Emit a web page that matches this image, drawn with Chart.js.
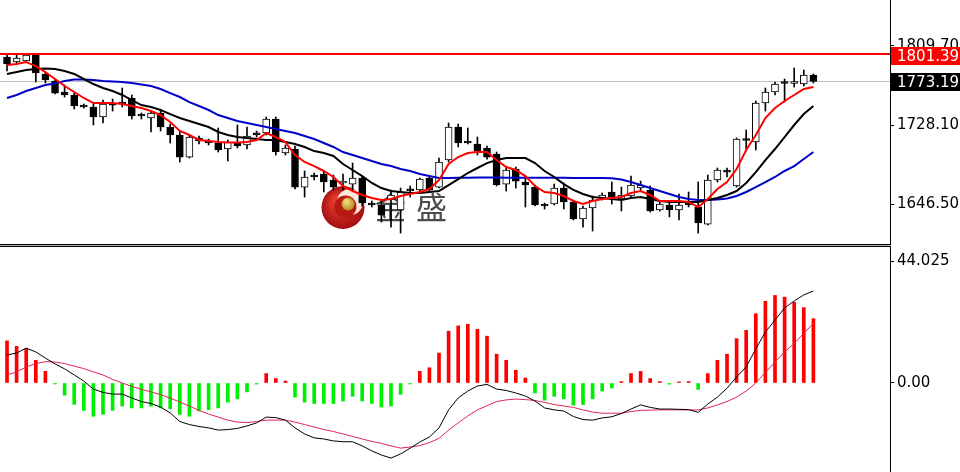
<!DOCTYPE html>
<html lang="zh">
<head>
<meta charset="UTF-8">
<title>日线 K线 + MACD</title>
<script src="https://cdn.jsdelivr.net/npm/chart.js"></script>
<style>
  html, body { margin: 0; padding: 0; background: #fff; }
  #top { position: absolute; left: 0; top: 0; width: 960px; height: 247px; }
  #bottom { position: absolute; left: 0; top: 247px; width: 960px; height: 225px; }
</style>
</head>
<body>
<div id="top"><canvas id="priceChart"></canvas></div>
<div id="bottom"><canvas id="macdChart"></canvas></div>
<script>
// candles, oldest first
const opens = [1798.3, 1793.2, 1794.2, 1800.4, 1780.8, 1773.5, 1762.2, 1759.1, 1748.7, 1746.7,
  1736.4, 1750.8, 1751.8, 1756.0, 1738.4, 1735.3, 1740.5, 1726.0, 1717.8, 1695.0,
  1714.7, 1710.5, 1709.5, 1703.3, 1709.5, 1707.4, 1718.8, 1719.8, 1734.3, 1699.2,
  1703.3, 1664.0, 1675.4, 1677.5, 1671.3, 1668.2, 1667.1, 1673.3, 1646.5, 1645.5,
  1650.6, 1640.3, 1661.0, 1661.0, 1673.3, 1664.0, 1692.0, 1726.0, 1710.5, 1708.5,
  1704.3, 1698.1, 1667.1, 1682.6, 1669.2, 1664.0, 1644.9, 1646.5, 1663.0, 1648.6,
  1631.0, 1642.4, 1652.7, 1658.9, 1651.7, 1654.8, 1663.0, 1661.0, 1640.3, 1645.5,
  1640.3, 1647.5, 1643.4, 1625.8, 1671.3, 1680.6, 1665.1, 1712.6, 1710.5, 1750.8,
  1762.2, 1771.5, 1771.0, 1770.4, 1779.7];
const highs = [1800.4, 1801.4, 1801.4, 1801.4, 1782.8, 1775.6, 1769.4, 1761.1, 1749.8, 1749.8,
  1753.9, 1754.9, 1766.3, 1759.1, 1740.5, 1742.5, 1743.6, 1729.1, 1720.9, 1717.8,
  1716.7, 1713.6, 1725.0, 1712.6, 1728.1, 1726.0, 1721.9, 1736.4, 1736.4, 1707.4,
  1706.4, 1680.6, 1678.5, 1679.5, 1676.4, 1677.5, 1688.8, 1675.4, 1649.6, 1650.6,
  1661.0, 1663.0, 1665.1, 1673.3, 1675.4, 1694.0, 1730.2, 1729.1, 1725.0, 1715.7,
  1706.4, 1700.2, 1684.7, 1684.7, 1675.4, 1666.1, 1647.5, 1667.1, 1668.2, 1650.6,
  1644.4, 1654.8, 1657.9, 1669.2, 1664.0, 1675.4, 1670.2, 1665.1, 1648.6, 1647.5,
  1656.8, 1658.9, 1669.2, 1676.4, 1683.7, 1683.7, 1714.7, 1722.9, 1752.9, 1766.3,
  1772.5, 1775.6, 1787.0, 1784.9, 1780.8];
const lows = [1783.9, 1791.1, 1793.2, 1772.5, 1771.5, 1760.1, 1757.0, 1744.6, 1745.6, 1728.1,
  1730.2, 1742.5, 1746.7, 1734.3, 1734.3, 1720.9, 1721.9, 1709.5, 1689.9, 1694.0,
  1708.5, 1707.4, 1700.2, 1690.9, 1704.3, 1703.3, 1715.7, 1717.8, 1697.1, 1697.1,
  1662.0, 1653.7, 1671.3, 1658.9, 1661.0, 1661.0, 1661.0, 1644.4, 1643.4, 1627.9,
  1622.7, 1616.5, 1653.7, 1658.9, 1658.9, 1663.0, 1689.9, 1705.4, 1708.5, 1697.1,
  1692.9, 1665.1, 1659.9, 1663.0, 1643.4, 1644.4, 1641.3, 1645.5, 1641.3, 1630.0,
  1622.7, 1618.6, 1650.6, 1646.5, 1639.3, 1653.7, 1661.0, 1638.2, 1639.3, 1633.1,
  1630.0, 1643.4, 1616.5, 1624.8, 1669.2, 1674.4, 1664.0, 1702.3, 1702.3, 1742.5,
  1759.1, 1751.8, 1767.3, 1768.4, 1771.5];
const closes = [1791.1, 1797.3, 1800.4, 1781.8, 1774.6, 1761.1, 1759.1, 1747.7, 1746.7, 1736.4,
  1749.8, 1748.7, 1749.8, 1737.4, 1737.4, 1740.5, 1726.0, 1717.8, 1695.0, 1715.7,
  1711.6, 1709.5, 1702.3, 1710.5, 1706.4, 1716.7, 1718.0, 1734.3, 1700.2, 1704.3,
  1664.0, 1674.4, 1674.4, 1669.2, 1664.0, 1670.2, 1673.3, 1647.5, 1645.5, 1635.1,
  1655.8, 1658.9, 1660.0, 1672.3, 1661.0, 1689.9, 1726.0, 1709.5, 1709.5, 1701.2,
  1695.0, 1666.1, 1681.6, 1670.2, 1666.1, 1645.5, 1644.4, 1663.0, 1648.6, 1631.0,
  1642.4, 1650.6, 1655.8, 1653.7, 1655.8, 1666.1, 1666.1, 1639.3, 1646.5, 1640.3,
  1645.5, 1645.5, 1626.9, 1671.3, 1681.6, 1679.5, 1713.6, 1712.1, 1750.8, 1762.2,
  1770.4, 1771.0, 1771.5, 1779.7, 1773.19];

// moving averages
const maFast = [1790.1, 1791.1, 1793.2, 1789.0, 1782.8, 1775.6, 1768.4, 1762.2, 1756.0, 1750.8,
  1750.8, 1750.8, 1749.8, 1747.7, 1745.6, 1742.5, 1738.4, 1731.2, 1721.9, 1717.8,
  1712.6, 1711.6, 1710.5, 1710.0, 1710.0, 1710.5, 1712.6, 1719.8, 1715.7, 1710.5,
  1697.1, 1689.9, 1685.7, 1680.6, 1674.4, 1665.1, 1659.9, 1655.8, 1652.7, 1650.6,
  1651.7, 1654.8, 1656.8, 1658.9, 1662.0, 1671.3, 1687.8, 1695.0, 1699.2, 1700.2,
  1700.2, 1691.9, 1684.7, 1681.6, 1675.4, 1665.1, 1658.9, 1657.9, 1654.8, 1649.6,
  1646.5, 1649.6, 1651.7, 1652.7, 1653.7, 1657.9, 1659.9, 1655.8, 1649.6, 1649.6,
  1649.6, 1648.6, 1643.4, 1651.7, 1662.0, 1669.2, 1682.6, 1702.3, 1717.8, 1735.3,
  1745.6, 1752.9, 1759.1, 1765.3, 1767.3];
const maMid = [1780.8, 1782.8, 1784.9, 1785.9, 1786.4, 1785.9, 1783.9, 1780.8, 1775.6, 1770.4,
  1766.3, 1763.2, 1759.1, 1753.9, 1748.7, 1746.7, 1743.6, 1739.4, 1735.3, 1732.2,
  1729.1, 1726.0, 1720.9, 1717.8, 1715.7, 1714.7, 1713.6, 1712.6, 1712.6, 1710.5,
  1708.5, 1705.4, 1701.2, 1699.2, 1696.1, 1687.8, 1681.6, 1675.4, 1668.2, 1663.0,
  1659.9, 1658.9, 1657.9, 1657.9, 1658.9, 1659.9, 1666.1, 1672.3, 1678.5, 1683.7,
  1688.8, 1691.9, 1694.0, 1694.0, 1694.0, 1688.8, 1680.6, 1674.4, 1667.1, 1661.0,
  1656.8, 1653.7, 1652.7, 1651.7, 1650.6, 1652.7, 1653.7, 1651.7, 1649.6, 1648.6,
  1648.6, 1648.6, 1648.6, 1650.6, 1652.7, 1655.8, 1659.9, 1668.2, 1679.5, 1691.9,
  1703.3, 1715.7, 1728.1, 1739.4, 1747.7];
const maSlow = [1756.0, 1759.1, 1763.2, 1766.3, 1769.4, 1770.9, 1773.5, 1775.1, 1775.1, 1774.6,
  1773.5, 1773.0, 1772.5, 1771.5, 1769.9, 1768.4, 1765.3, 1761.1, 1757.0, 1751.8,
  1747.7, 1743.6, 1738.4, 1735.3, 1732.2, 1730.2, 1728.1, 1726.0, 1723.9, 1721.9,
  1719.8, 1716.7, 1713.6, 1709.5, 1705.4, 1700.2, 1697.1, 1694.0, 1690.9, 1687.8,
  1685.7, 1682.6, 1680.6, 1677.5, 1675.4, 1673.3, 1673.3, 1673.5, 1673.6, 1673.8,
  1673.8, 1673.8, 1673.6, 1673.5, 1673.5, 1673.5, 1673.5, 1673.5, 1673.5, 1673.4,
  1673.4, 1673.4, 1673.3, 1673.0, 1671.8, 1669.2, 1666.1, 1663.0, 1659.9, 1656.8,
  1653.7, 1651.7, 1650.6, 1650.6, 1651.1, 1652.2, 1654.8, 1658.9, 1664.0, 1669.2,
  1674.4, 1680.6, 1685.7, 1693.0, 1700.2];

// MACD panel
const macdHist = [15.2, 13.2, 12.4, 8.2, 4.2, -0.3, -4.4, -7.7, -9.9, -12.0,
  -11.3, -9.9, -8.3, -9.0, -9.0, -8.4, -9.0, -9.3, -11.3, -12.0,
  -10.1, -9.6, -9.0, -6.9, -5.7, -3.2, -0.4, 3.4, 1.6, 0.7,
  -5.1, -6.9, -7.4, -7.4, -7.4, -6.5, -4.8, -6.5, -7.4, -8.7,
  -8.3, -4.1, -0.3, 4.2, 5.5, 10.8, 18.7, 20.6, 21.2, 19.4,
  16.9, 10.4, 8.2, 4.6, 1.8, -3.6, -6.2, -4.8, -5.7, -8.0,
  -7.8, -5.7, -2.9, -1.8, 0.5, 3.4, 4.2, 1.6, 0.5, -0.4,
  0.4, 0.5, -2.3, 3.4, 8.2, 10.4, 16.0, 19.0, 25.0, 29.5,
  31.6, 31.0, 29.1, 27.2, 23.2];
const macdMain = [10.1, 10.8, 12.6, 11.2, 9.0, 6.9, 5.1, 2.9, 0.7, -2.2,
  -3.4, -4.0, -4.0, -5.4, -6.7, -7.4, -8.7, -10.8, -13.9, -15.0,
  -15.7, -16.2, -17.0, -16.8, -16.4, -15.5, -14.4, -12.3, -12.5, -13.4,
  -16.2, -18.4, -19.8, -20.2, -20.9, -21.2, -21.2, -22.7, -24.5, -26.0,
  -27.1, -25.6, -23.5, -21.3, -19.5, -16.2, -9.7, -5.4, -2.9, -1.1,
  -0.5, -2.2, -2.7, -3.6, -4.7, -6.5, -9.0, -9.7, -10.1, -12.1,
  -13.2, -13.4, -12.6, -12.2, -11.0, -9.4, -7.9, -8.8, -9.4, -9.4,
  -9.5, -9.6, -10.6, -7.6, -5.1, -1.9, 2.2, 5.8, 12.3, 18.4,
  22.7, 27.1, 29.6, 31.8, 33.2];
const macdSignal = [2.9, 4.0, 5.8, 7.0, 7.7, 7.6, 7.0, 6.1, 5.2, 4.0,
  2.9, 1.3, 0.0, -1.2, -2.3, -3.2, -4.2, -5.4, -6.9, -8.3,
  -9.9, -11.2, -12.3, -13.4, -14.1, -14.3, -13.9, -13.4, -13.4, -13.4,
  -14.1, -15.0, -15.9, -16.8, -17.5, -18.4, -19.3, -20.2, -21.1, -21.8,
  -22.7, -23.5, -23.1, -22.6, -21.5, -20.0, -17.0, -14.4, -11.9, -9.7,
  -8.2, -6.7, -6.1, -5.8, -6.0, -6.3, -7.0, -7.8, -8.3, -8.8,
  -9.7, -10.5, -10.9, -10.9, -10.9, -10.3, -9.9, -9.8, -9.7, -9.7,
  -9.7, -9.7, -9.7, -9.0, -7.9, -6.7, -5.1, -2.9, 0.0, 3.8,
  7.6, 11.2, 14.3, 17.9, 21.5];

const priceTicks = [1646.50, 1728.10, 1809.70];
const macdTicks = [0, 44.025];
const resistance = 1801.39;
const lastPrice = 1773.19;

const idx = closes.map((c, i) => i);
const axisFont = { family: 'DejaVu Sans', size: 15 };
const xAxis = { type: 'linear', min: -0.73, max: 91.98, offset: false, bounds: 'ticks', display: false };

function rightAxis(min, max, ticks, fmt) {
    return {
        position: 'right', min: min, max: max,
        afterBuildTicks: s => { s.ticks = ticks.map(v => ({ value: v })); },
        afterFit: s => { s.width = 70; s.paddingTop = 0; s.paddingBottom = 0; },
        ticks: { autoSkip: false, color: '#000', font: axisFont, padding: 3, callback: fmt },
        grid: { drawOnChartArea: false, drawTicks: true, tickLength: 4, tickColor: '#000' },
        border: { display: true, color: '#000', width: 1 }
    };
}

// watermark logo behind the candles
const watermark = {
    id: 'watermark',
    beforeDatasetsDraw(chart) {
        const ctx = chart.ctx;
        ctx.save();
        const g = ctx.createRadialGradient(336, 200, 3, 343, 207, 22);
        g.addColorStop(0, '#e43a2c');
        g.addColorStop(1, '#a50f10');
        ctx.fillStyle = g;
        ctx.beginPath(); ctx.arc(343, 207.5, 21.5, 0, Math.PI * 2); ctx.fill();
        ctx.fillStyle = '#fbe9e0';
        ctx.beginPath(); ctx.arc(350, 202, 13, 0, Math.PI * 2); ctx.fill();
        ctx.fillStyle = '#b81812';
        ctx.beginPath(); ctx.arc(345.5, 206.5, 11, 0, Math.PI * 2); ctx.fill();
        const gold = ctx.createRadialGradient(346, 201, 1, 348, 204, 7);
        gold.addColorStop(0, '#f4dc7a');
        gold.addColorStop(1, '#b38a22');
        ctx.fillStyle = gold;
        ctx.beginPath(); ctx.arc(348, 204, 6.5, 0, Math.PI * 2); ctx.fill();
        ctx.fillStyle = 'rgba(45,45,45,0.85)';
        ctx.font = '31px "Noto Sans CJK SC"';
        ctx.textBaseline = 'middle';
        ctx.fillText('金', 375, 207);
        ctx.fillText('盛', 416, 207);
        ctx.restore();
    }
};

const levelLines = {
    id: 'levelLines',
    beforeDatasetsDraw(chart) {
        const { ctx, chartArea, scales: { y } } = chart;
        const py = Math.round(y.getPixelForValue(lastPrice)) + 0.5;
        ctx.save();
        ctx.strokeStyle = '#c0c0c0'; ctx.lineWidth = 1;
        ctx.beginPath(); ctx.moveTo(chartArea.left, py); ctx.lineTo(chartArea.right, py); ctx.stroke();
        ctx.restore();
    },
    afterDatasetsDraw(chart) {
        const { ctx, chartArea, scales: { y } } = chart;
        const py = Math.round(y.getPixelForValue(resistance));
        ctx.save();
        ctx.strokeStyle = '#ff0000'; ctx.lineWidth = 2;
        ctx.beginPath(); ctx.moveTo(chartArea.left, py); ctx.lineTo(chartArea.right, py); ctx.stroke();
        ctx.restore();
    },
    afterDraw(chart) {
        const { ctx, chartArea, scales: { y } } = chart;
        ctx.save();
        // price labels sit a little below their line, as in the terminal
        [[resistance, '#ff0000', 2], [lastPrice, '#000000', 1]].forEach(([v, c, shift]) => {
            const py = Math.round(y.getPixelForValue(v)) + shift;
            ctx.fillStyle = c;
            ctx.fillRect(chartArea.right + 1, py - 9, chart.width - chartArea.right - 1, 18);
            ctx.fillStyle = '#fff';
            ctx.font = '15px "DejaVu Sans"';
            ctx.textBaseline = 'middle';
            ctx.fillText(v.toFixed(2), chartArea.right + 7, py + 1);
        });
        // panel separator
        const b = chartArea.bottom;
        ctx.fillStyle = '#000';
        ctx.fillRect(0, b, chartArea.right + 1, 1);
        ctx.fillStyle = '#b4b4b4';
        ctx.fillRect(0, b + 1, chartArea.right + 1, 1);
        ctx.fillStyle = '#000';
        ctx.fillRect(0, b + 2, chartArea.right + 1, 1);
        ctx.restore();
    }
};

new Chart(document.getElementById('priceChart'), {
    type: 'bar',
    data: {
        datasets: [
            { type: 'line', data: idx.map(i => ({ x: i, y: maFast[i] })), borderColor: '#ff0000', borderWidth: 2, pointRadius: 0, order: 1 },
            { type: 'line', data: idx.map(i => ({ x: i, y: maMid[i] })), borderColor: '#000000', borderWidth: 2, pointRadius: 0, order: 1.1 },
            { type: 'line', data: idx.map(i => ({ x: i, y: maSlow[i] })), borderColor: '#0000c8', borderWidth: 2, pointRadius: 0, order: 1.2 },
            {
                data: idx.map(i => ({ x: i, y: [opens[i], closes[i]] })),
                backgroundColor: idx.map(i => closes[i] >= opens[i] ? '#ffffff' : '#000000'),
                borderColor: '#000', borderWidth: 1, borderSkipped: false,
                barThickness: 7, minBarLength: 2, grouped: false, order: 2
            },
            {
                data: idx.map(i => ({ x: i, y: [lows[i], highs[i]] })),
                backgroundColor: '#000', barThickness: 1, grouped: false, order: 3
            }
        ]
    },
    options: {
        responsive: true, maintainAspectRatio: false, animation: false,
        layout: { padding: { left: 0, right: 0, top: 0, bottom: 3 } },
        scales: {
            x: xAxis,
            y: rightAxis(1605.2, 1857.2, priceTicks, v => v.toFixed(2))
        },
        plugins: { legend: { display: false }, tooltip: { enabled: false } }
    },
    plugins: [watermark, levelLines]
});

new Chart(document.getElementById('macdChart'), {
    type: 'bar',
    data: {
        datasets: [
            { type: 'line', data: idx.map(i => ({ x: i, y: macdMain[i] })), borderColor: '#000000', borderWidth: 1, pointRadius: 0, order: 1 },
            { type: 'line', data: idx.map(i => ({ x: i, y: macdSignal[i] })), borderColor: '#e0245a', borderWidth: 1, pointRadius: 0, order: 1.1 },
            {
                data: idx.map(i => ({ x: i, y: macdHist[i] })),
                backgroundColor: macdHist.map(v => v >= 0 ? '#ff0000' : '#00ee00'),
                barThickness: 3, minBarLength: 1, grouped: false, order: 2
            }
        ]
    },
    options: {
        responsive: true, maintainAspectRatio: false, animation: false,
        layout: { padding: 0 },
        scales: {
            x: xAxis,
            y: rightAxis(-32.12, 49.08, macdTicks, v => v === 0 ? '0.00' : String(v))
        },
        plugins: { legend: { display: false }, tooltip: { enabled: false } }
    }
});
</script>
</body>
</html>
